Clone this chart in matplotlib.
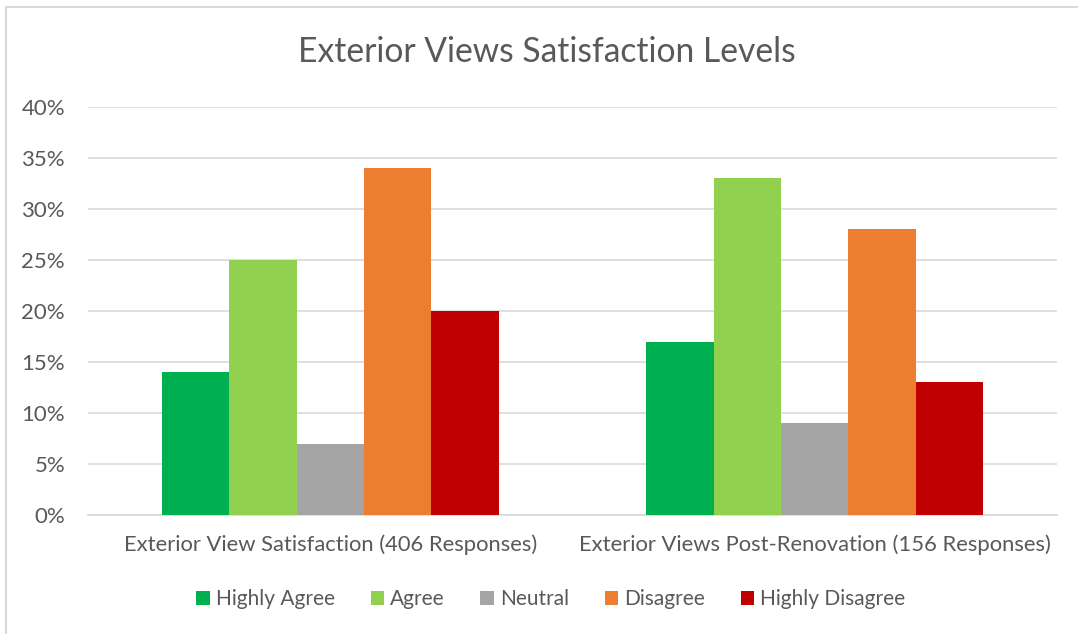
import matplotlib
matplotlib.use("Agg")
import matplotlib.pyplot as plt
from matplotlib.lines import Line2D
from matplotlib.patches import Patch
import numpy as np

categories = ["Exterior View Satisfaction (406 Responses)",
              "Exterior Views Post-Renovation (156 Responses)"]
series_names = ["Highly Agree", "Agree", "Neutral", "Disagree", "Highly Disagree"]
highly_agree = [14, 17]
agree = [25, 33]
neutral = [7, 9]
disagree = [34, 28]
highly_disagree = [20, 13]
series_values = [highly_agree, agree, neutral, disagree, highly_disagree]
colors = ["#00B050", "#92D050", "#A5A5A5", "#ED7D31", "#C00000"]
y_ticks = [0, 5, 10, 15, 20, 25, 30, 35, 40]

plt.rcParams['font.family'] = ['Lato', 'DejaVu Sans']
text_color = "#595959"

fig = plt.figure(figsize=(10.78, 6.34), dpi=100)
ax = fig.add_axes([88/1078, 1 - 515/634, (1057-88)/1078, (515-107)/634])

x = np.arange(len(categories))
bw = 0.139
for i, (name, vals, c) in enumerate(zip(series_names, series_values, colors)):
    ax.bar(x + (i - 2) * bw, vals, width=bw, color=c, label=name, zorder=3)

ax.set_xlim(-0.5, 1.5)
ax.set_ylim(0, 40)
ax.set_yticks(y_ticks)
ax.set_yticklabels([f"{t}%" for t in y_ticks], fontsize=16, color=text_color)
ax.set_xticks(x)
ax.set_xticklabels(categories, fontsize=15.8, color=text_color)
ax.tick_params(axis='both', length=0)
ax.tick_params(axis='y', pad=16.5)
ax.tick_params(axis='x', pad=14)
ax.grid(axis='y', color="#D9D9D9", linewidth=1.2, zorder=0)
for s in ["top", "right", "left"]:
    ax.spines[s].set_visible(False)
ax.spines["bottom"].set_color("#D9D9D9")
ax.spines["bottom"].set_linewidth(1.2)

fig.text(547/1078, 1 - 52/634, "Exterior Views Satisfaction Levels",
         ha="center", va="center", fontsize=24.2, color=text_color)

handles = [Patch(facecolor=c, label=n) for n, c in zip(series_names, colors)]
fig.legend(handles=handles, loc="center", bbox_to_anchor=(551/1078, 1 - 599/634),
           ncol=5, frameon=False, fontsize=15, labelcolor=text_color,
           handlelength=0.65, handleheight=0.65, handletextpad=0.3, columnspacing=1.7)

# chart border (left and top visible)
fig.add_artist(Line2D([6/1078, 6/1078], [0, 1 - 7/634], transform=fig.transFigure,
                      color="#D9D9D9", linewidth=1.5))
fig.add_artist(Line2D([6/1078, 1], [1 - 7/634, 1 - 7/634], transform=fig.transFigure,
                      color="#D9D9D9", linewidth=1.5))

fig.savefig("out.png", dpi=100)
